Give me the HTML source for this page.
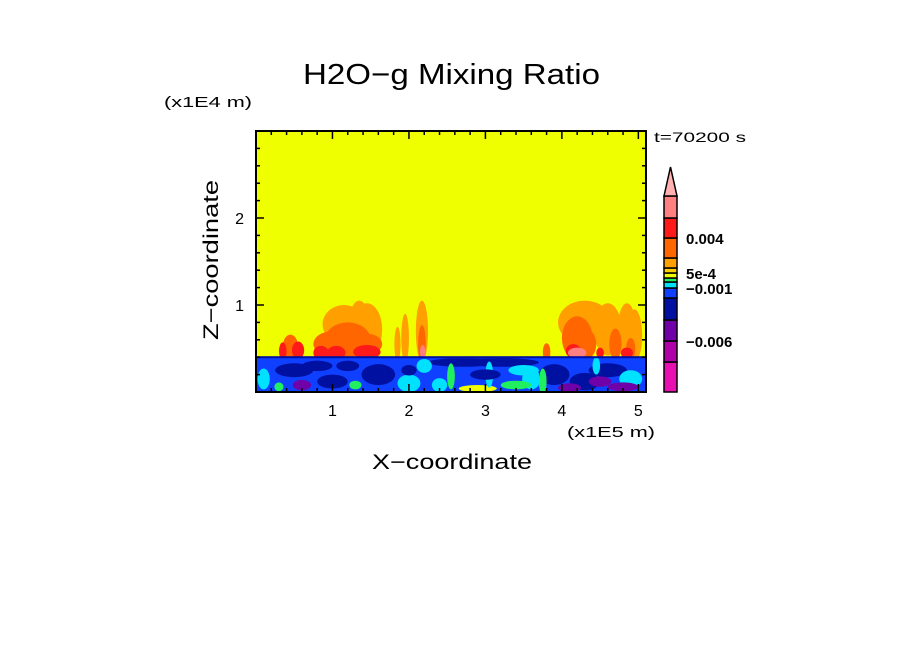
<!DOCTYPE html>
<html><head><meta charset="utf-8"><style>
html,body{margin:0;padding:0;background:#fff;}
svg text{font-family:"Liberation Sans",sans-serif;fill:#000;}
</style></head><body>
<svg id="chart" width="904" height="654" viewBox="0 0 904 654" xmlns="http://www.w3.org/2000/svg">
<text x="303" y="84" font-size="29" textLength="297" lengthAdjust="spacingAndGlyphs">H2O−g Mixing Ratio</text>
<text x="164" y="107" font-size="15" textLength="88" lengthAdjust="spacingAndGlyphs">(x1E4 m)</text>
<text x="654" y="142" font-size="14" textLength="92" lengthAdjust="spacingAndGlyphs">t=70200 s</text>
<text x="567" y="437" font-size="15" textLength="88" lengthAdjust="spacingAndGlyphs">(x1E5 m)</text>
<text x="372" y="469" font-size="21" textLength="160" lengthAdjust="spacingAndGlyphs">X−coordinate</text>
<text transform="translate(218,340) rotate(-90)" font-size="21" textLength="160" lengthAdjust="spacingAndGlyphs">Z−coordinate</text>
<g id="field"></g>
<g id="axes"></g>
<g id="cbar"></g>
</svg>
<script>
const NS="http://www.w3.org/2000/svg";
const X0=256,X1=646,Y0=131,Y1=392;
const xMin=0,xMax=5.1,zMin=0,zMax=3.0;
const sx=v=>X0+(v-xMin)/(xMax-xMin)*(X1-X0);
const sz=v=>Y1-(v-zMin)/(zMax-zMin)*(Y1-Y0);
const xTicks=[1,2,3,4,5];
const zTicks=[1,2];
const palette=["#e810b0","#b000a8","#7000a8","#0010a0","#1040ff","#00e0ff","#20f060","#f0ff00","#ffd000","#ffa000","#ff6600","#ff1a1a","#ff8080"];
// colorbar contour levels (x1e-3), bottom edge of each swatch plus top
const cbarLevels=[-10,-8,-6,-4,-2,-1,-0.5,0,0.5,1,2,4,6,8];
const cbarLabels=["0.004","5e-4","−0.001","−0.006"];
const cbarLabelValue=[4,0.5,-1,-6];
const bgLevel=7;
const bandTop=0.4; const bandLevel=4;
// plumes: x, z, half-width, half-height, level
const plumeX=[1.15,1.45,1.2,1.0,1.45,1.35,0.85,1.05,1.45,2.17,2.17,2.18,0.45,0.55,0.35,4.3,4.6,4.85,4.95,4.2,4.3,4.15,4.7,4.9,4.2,4.5,4.85,3.8,1.95,1.85];
const plumeZ=[0.78,0.72,0.60,0.55,0.55,0.85,0.45,0.45,0.46,0.70,0.55,0.46,0.52,0.48,0.47,0.80,0.72,0.72,0.65,0.62,0.55,0.47,0.55,0.50,0.45,0.45,0.45,0.46,0.62,0.55];
const plumeRX=[0.28,0.2,0.3,0.25,0.2,0.12,0.1,0.12,0.18,0.08,0.05,0.035,0.1,0.08,0.05,0.35,0.18,0.12,0.1,0.2,0.15,0.1,0.08,0.06,0.12,0.05,0.08,0.05,0.05,0.04];
const plumeRZ=[0.22,0.3,0.2,0.15,0.12,0.2,0.08,0.08,0.08,0.35,0.22,0.08,0.14,0.1,0.1,0.25,0.3,0.3,0.3,0.25,0.18,0.08,0.18,0.12,0.06,0.06,0.06,0.1,0.28,0.2];
const plumeLvl=[9,9,10,10,10,9,11,11,11,9,10,12,10,11,11,9,9,9,9,10,10,11,10,10,12,11,11,10,9,9];
// band patches
const patchX=[0.1,0.5,1.0,1.6,2.0,2.4,2.7,3.2,3.6,3.9,4.3,4.6,4.9,0.3,1.3,2.2,2.9,3.4,4.1,4.8,0.8,2.55,3.05,3.75,4.45,1.2,2.0,3.0,4.5,0.6,3.5];
const patchZ=[0.15,0.25,0.12,0.2,0.1,0.08,0.34,0.34,0.15,0.2,0.12,0.25,0.15,0.06,0.08,0.3,0.04,0.08,0.05,0.06,0.3,0.18,0.2,0.12,0.3,0.3,0.25,0.2,0.12,0.08,0.25];
const patchRX=[0.08,0.25,0.2,0.22,0.15,0.1,0.45,0.5,0.12,0.2,0.2,0.25,0.15,0.06,0.08,0.1,0.25,0.2,0.15,0.2,0.2,0.05,0.05,0.05,0.05,0.15,0.1,0.2,0.15,0.12,0.2];
const patchRZ=[0.12,0.08,0.08,0.12,0.1,0.08,0.05,0.05,0.12,0.12,0.1,0.08,0.1,0.05,0.05,0.08,0.04,0.05,0.05,0.05,0.06,0.15,0.15,0.15,0.1,0.06,0.06,0.06,0.06,0.06,0.06];
const patchLvl=[5,3,3,3,5,5,3,3,5,3,3,3,5,6,6,5,7,6,2,2,3,6,5,6,5,3,3,3,2,2,5];

const field=document.getElementById('field');
function rect(g,x,y,w,h,f,name){const r=document.createElementNS(NS,'rect');r.setAttribute('x',x);r.setAttribute('y',y);r.setAttribute('width',w);r.setAttribute('height',h);r.setAttribute('fill',f);


g.appendChild(r);return r;}
rect(field,X0,Y0,X1-X0,Y1-Y0,palette[bgLevel],'field-background');
const clip=document.createElementNS(NS,'clipPath');clip.setAttribute('id','pc');
const cr=document.createElementNS(NS,'rect');cr.setAttribute('x',X0);cr.setAttribute('y',Y0);cr.setAttribute('width',X1-X0);cr.setAttribute('height',Y1-Y0);clip.appendChild(cr);
document.getElementById('chart').appendChild(clip);
field.setAttribute('clip-path','url(#pc)');
const order=plumeX.map((_,i)=>i).sort((a,b)=>plumeLvl[a]-plumeLvl[b]);
order.forEach(i=>{
  const e=document.createElementNS(NS,'ellipse');
  e.setAttribute('cx',sx(plumeX[i]));e.setAttribute('cy',sz(plumeZ[i]));
  e.setAttribute('rx',sx(plumeRX[i])-sx(0));e.setAttribute('ry',sz(0)-sz(plumeRZ[i]));
  e.setAttribute('fill',palette[plumeLvl[i]]);
  
  
  field.appendChild(e);
});
rect(field,X0,sz(bandTop),X1-X0,Y1-sz(bandTop),palette[bandLevel],'boundary-layer-band');
patchX.forEach((px,i)=>{
  const e=document.createElementNS(NS,'ellipse');
  e.setAttribute('cx',sx(px));e.setAttribute('cy',sz(patchZ[i]));
  e.setAttribute('rx',sx(patchRX[i])-sx(0));e.setAttribute('ry',sz(0)-sz(patchRZ[i]));
  e.setAttribute('fill',palette[patchLvl[i]]);
  
  
  field.appendChild(e);
});
rect(field,X0,sz(bandTop)-1,X1-X0,2,palette[3],'band-top-edge');

const axes=document.getElementById('axes');
function line(g,x1,y1,x2,y2,w,name){const l=document.createElementNS(NS,'line');l.setAttribute('x1',x1);l.setAttribute('y1',y1);l.setAttribute('x2',x2);l.setAttribute('y2',y2);l.setAttribute('stroke','#000');l.setAttribute('stroke-width',w);


g.appendChild(l);}
for(let k=1;k<=25;k++){const v=k*0.2;if(v>xMax)break;const x=sx(v);const maj=Math.abs(v-Math.round(v))<1e-6;const L=maj?8:4;
 line(axes,x,Y1,x,Y1-L,1.5,'x-tick');line(axes,x,Y0,x,Y0+L,1.5,'x-tick-top');}
for(let k=1;k<15;k++){const v=k*0.2;const y=sz(v);const maj=Math.abs(v-Math.round(v))<1e-6;const L=maj?8:4;
 line(axes,X0,y,X0+L,y,1.5,'z-tick');line(axes,X1,y,X1-L,y,1.5,'z-tick-right');}
const fr=document.createElementNS(NS,'rect');fr.setAttribute('x',X0);fr.setAttribute('y',Y0);fr.setAttribute('width',X1-X0);fr.setAttribute('height',Y1-Y0);fr.setAttribute('fill','none');fr.setAttribute('stroke','#000');fr.setAttribute('stroke-width','2');


axes.appendChild(fr);
function txt(g,x,y,s,fs,anchor,name){const t=document.createElementNS(NS,'text');t.setAttribute('x',x);t.setAttribute('y',y);t.setAttribute('font-size',fs);if(anchor)t.setAttribute('text-anchor',anchor);t.textContent=s;


g.appendChild(t);return t;}
xTicks.forEach(v=>txt(axes,sx(v),416,String(v),16,'middle','x-tick-label'));
zTicks.forEach(v=>txt(axes,244,sz(v)+6,String(v),16,'end','z-tick-label'));

// colorbar: piecewise mapping of contour levels onto bar
const cb=document.getElementById('cbar');
const CX=664,CW=13;
const cbPix=[392,362,341,320,298,288,282,278,273,268,258,238,218,196];
function cbY(v){for(let i=0;i<cbarLevels.length-1;i++){if(v<=cbarLevels[i+1]){const f=(v-cbarLevels[i])/(cbarLevels[i+1]-cbarLevels[i]);return cbPix[i]+f*(cbPix[i+1]-cbPix[i]);}}return cbPix[cbPix.length-1];}
palette.forEach((c,i)=>{const yb=cbY(cbarLevels[i]),yt=cbY(cbarLevels[i+1]);const r=rect(cb,CX,yt,CW,yb-yt,c,'colorbar-swatch');r.setAttribute('stroke','#000');r.setAttribute('stroke-width','1.5');});
const tri=document.createElementNS(NS,'polygon');
tri.setAttribute('points',`${CX},196 ${CX+CW/2},167 ${CX+CW},196`);
tri.setAttribute('fill','#ffb0b0');tri.setAttribute('stroke','#000');tri.setAttribute('stroke-width','1.5');


cb.appendChild(tri);
cbarLabels.forEach((s,i)=>{const t=txt(cb,686,cbY(cbarLabelValue[i])+6,s,15,null,'colorbar-label');t.setAttribute('font-weight','bold');});
</script>
</body></html>
